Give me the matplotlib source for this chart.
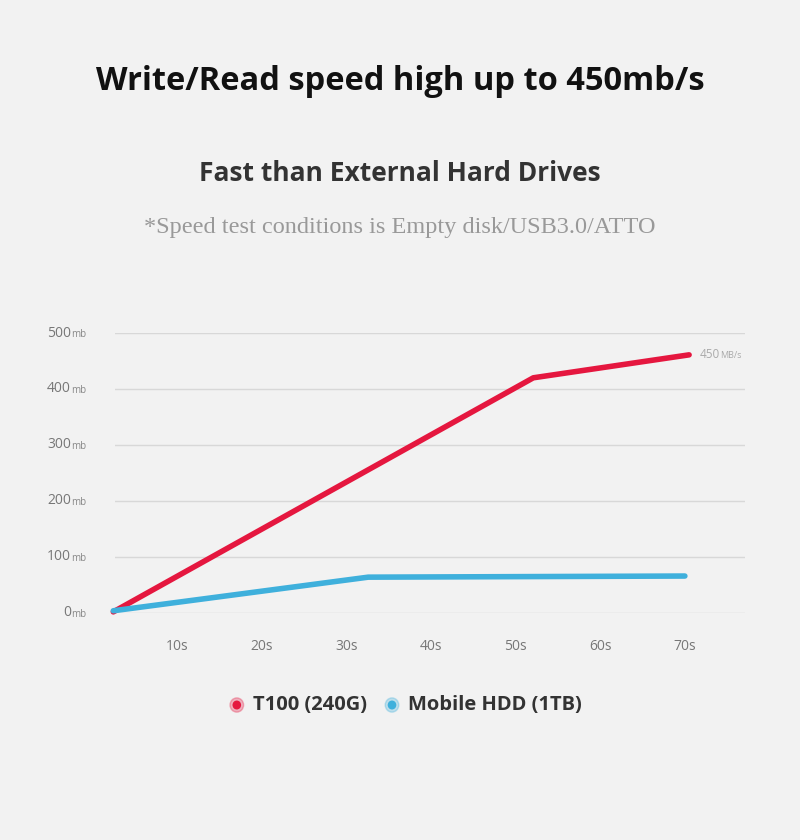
import matplotlib
matplotlib.use("Agg")
import matplotlib.pyplot as plt

t100_x = [2.5, 52.1, 70.5]
t100_y = [2, 420, 461]
hdd_x = [2.5, 32.6, 70.0]
hdd_y = [4, 64, 66]
yticks = [0, 100, 200, 300, 400, 500]
xticks = [10, 20, 30, 40, 50, 60, 70]
red = "#e5173f"
blue = "#3fb0dc"
bg = "#f2f2f2"

plt.rcParams['font.family'] = ['Open Sans', 'DejaVu Sans']
fig = plt.figure(figsize=(8, 8.4), dpi=100, facecolor=bg)
ax = fig.add_axes([115/800, (840-613)/840, 630/800, 280/840])
ax.set_facecolor(bg)
ax.set_xlim(2.7, 77.1)
ax.set_ylim(0, 500)
for s in ax.spines.values():
    s.set_visible(False)
ax.set_xticks([]); ax.set_yticks([])
for v in yticks:
    ax.axhline(v, color="#d8d8d8", lw=1, zorder=0)
    ax.text(-0.07, v, f"{v}", transform=ax.get_yaxis_transform(), ha="right", va="center", fontsize=10, color="#777")
    ax.text(-0.07, v - 3, "mb", transform=ax.get_yaxis_transform(), ha="left", va="center", fontsize=7, color="#888")
for v in xticks:
    ax.text(v, -0.12, f"{v}s", transform=ax.get_xaxis_transform(), ha="center", va="center", fontsize=10, color="#777")
ax.plot(t100_x, t100_y, color=red, lw=4, solid_capstyle="round", clip_on=False)
ax.plot(hdd_x, hdd_y, color=blue, lw=4, solid_capstyle="round", clip_on=False)
ax.text(71.7, 461, "450", fontsize=8.5, color="#aaa", va="center")
ax.text(74.2, 459, "MB/s", fontsize=6.5, color="#aaa", va="center")

fig.text(0.5, 0.903, "Write/Read speed high up to 450mb/s", ha="center", va="center", fontsize=23.5, fontweight="bold", color="#111")
fig.text(0.5, 0.794, "Fast than External Hard Drives", ha="center", va="center", fontsize=19, fontweight="bold", color="#333")
fig.text(0.5, 0.729, "*Speed test conditions is Empty disk/USB3.0/ATTO", ha="center", va="center", fontsize=17.5, color="#999", family="Liberation Serif")

# legend
for xc, col, lab in [(0.296, red, "T100 (240G)"), (0.49, blue, "Mobile HDD (1TB)")]:
    fig.patches.append(plt.Circle((xc, 0.1607), 0.0085, transform=fig.transFigure, color=col, alpha=0.3))
    fig.patches.append(plt.Circle((xc, 0.1607), 0.0045, transform=fig.transFigure, color=col))
    fig.text(xc + 0.02, 0.1607, lab, va="center", fontsize=14.5, fontweight="bold", color="#333")

fig.savefig("out.png", facecolor=bg)
